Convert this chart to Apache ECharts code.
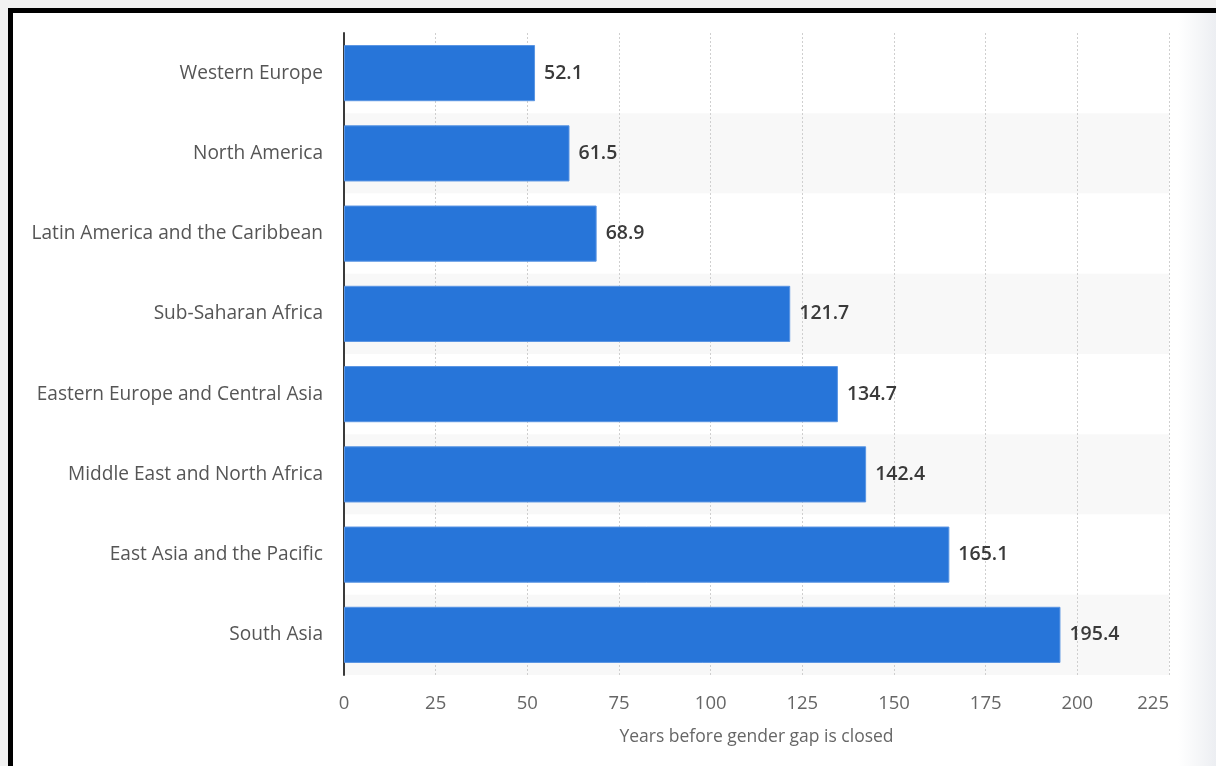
<!DOCTYPE html>
<html><head><meta charset="utf-8">
<script src="https://cdn.jsdelivr.net/npm/echarts@6/dist/echarts.min.js"></script>
<style>html,body{margin:0;padding:0;background:#fff}#c{width:1216px;height:766px}</style>
</head><body><div id="c"></div>
<script>
const categories = ["Western Europe","North America","Latin America and the Caribbean","Sub-Saharan Africa","Eastern Europe and Central Asia","Middle East and North Africa","East Asia and the Pacific","South Asia"];
const values = [52.1,61.5,68.9,121.7,134.7,142.4,165.1,195.4];
const axisTitle = "Years before gender gap is closed";

const chart = echarts.init(document.getElementById('c'));
chart.setOption({
  animation:false,
  backgroundColor:'#fff',
  textStyle:{fontFamily:'Open Sans'},
  graphic:[
    {type:'rect',left:0,top:0,shape:{width:1216,height:8},style:{fill:'#f2f2f2'},z:100},
    {type:'rect',left:0,top:0,shape:{width:8,height:766},style:{fill:'#f2f2f2'},z:100},
    {type:'rect',left:8,top:8,shape:{width:1208,height:5},style:{fill:'#000'},z:101},
    {type:'rect',left:8,top:8,shape:{width:5,height:758},style:{fill:'#000'},z:101},
    {type:'rect',left:1178,top:13,shape:{width:38,height:753},style:{fill:new echarts.graphic.LinearGradient(0,0,1,0,[{offset:0,color:'rgba(238,240,243,0)'},{offset:1,color:'#eceef2'}])},z:1}
  ],
  grid:{left:344,right:47,top:33,bottom:91,containLabel:false},
  xAxis:{
    type:'value',min:0,max:225,interval:25,
    name:axisTitle,nameLocation:'middle',nameGap:53,
    nameTextStyle:{color:'#666',fontSize:17.5},
    axisLine:{show:false},axisTick:{show:false},
    axisLabel:{color:'#666',fontSize:18.5,margin:19,alignMaxLabel:'right'},
    splitLine:{show:true,lineStyle:{color:'#cfcfcf',type:[2,2],width:1}}
  },
  yAxis:{
    type:'category',data:categories,inverse:true,
    axisLine:{show:true,lineStyle:{color:'#3a3a3a',width:2}},
    axisTick:{show:false},
    axisLabel:{color:'#555',fontSize:19.1,margin:21},
    splitArea:{show:true,areaStyle:{color:['#ffffff','#f8f8f8']}}
  },
  series:[{
    type:'bar',data:values,barCategoryGap:'30%',
    itemStyle:{color:'#2775d9',borderColor:'#5a95e3',borderWidth:1},
    label:{show:true,position:'right',distance:9,color:'#3a3a3a',fontSize:19.5,fontWeight:600}
  }]
});
</script></body></html>
